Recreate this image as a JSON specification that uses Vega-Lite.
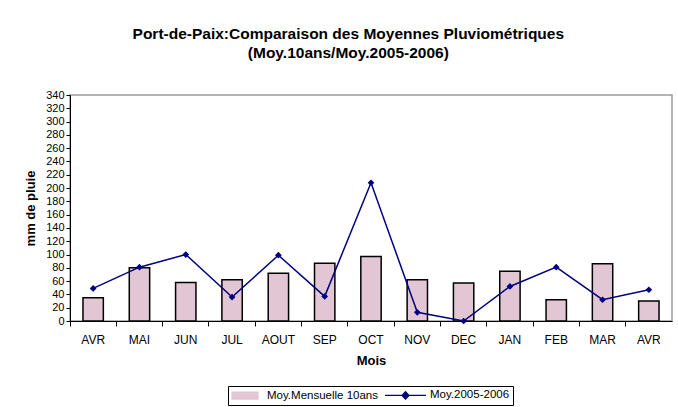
{
  "$schema": "https://vega.github.io/schema/vega-lite/v6.json",
  "width": 602,
  "height": 226,
  "autosize": {"type": "none"},
  "padding": {"left": 70, "top": 95, "right": 6, "bottom": 86},
  "background": "white",
  "config": {
    "font": "Liberation Sans",
    "view": {"stroke": "#9a9a9a", "strokeWidth": 1.5},
    "axis": {"domainColor": "black", "tickColor": "black", "labelColor": "black", "titleColor": "black", "labelFont": "Liberation Sans", "titleFont": "Liberation Sans", "grid": false}
  },
  "title": {
    "text": ["Port-de-Paix:Comparaison des Moyennes Pluviométriques", "(Moy.10ans/Moy.2005-2006)"],
    "fontSize": 15.5, "fontWeight": "bold", "font": "Liberation Sans", "lineHeight": 19,
    "anchor": "middle", "frame": "bounds", "offset": 28, "color": "black"
  },
  "data": {"values": [
    {"k": "01|AVR", "moy10": 35, "moy0506": 49},
    {"k": "02|MAI", "moy10": 80, "moy0506": 81},
    {"k": "03|JUN", "moy10": 58, "moy0506": 100},
    {"k": "04|JUL", "moy10": 62, "moy0506": 36},
    {"k": "05|AOUT", "moy10": 72, "moy0506": 99},
    {"k": "06|SEP", "moy10": 87, "moy0506": 37},
    {"k": "07|OCT", "moy10": 97, "moy0506": 208},
    {"k": "08|NOV", "moy10": 62, "moy0506": 13},
    {"k": "09|DEC", "moy10": 57, "moy0506": 0},
    {"k": "10|JAN", "moy10": 75, "moy0506": 52},
    {"k": "11|FEB", "moy10": 32, "moy0506": 81},
    {"k": "12|MAR", "moy10": 86, "moy0506": 32},
    {"k": "13|AVR", "moy10": 30, "moy0506": 47}
  ]},
  "layer": [
    {
      "mark": {"type": "bar", "stroke": "black", "strokeWidth": 1.5, "width": {"band": 0.44}},
      "encoding": {
        "x": {"field": "k", "type": "nominal", "scale": {"paddingInner": 0, "paddingOuter": 0},
          "axis": {"title": "Mois", "titleFontWeight": "bold", "titleFontSize": 13, "labelFontSize": 12, "labelAngle": 0, "ticks": false, "tickSize": 0, "labelPadding": 13, "titlePadding": 9, "labelExpr": "slice(datum.label, 3)", "domain": true}},
        "y": {"field": "moy10", "type": "quantitative", "scale": {"domain": [0, 340], "nice": false},
          "axis": {"title": "mm de pluie", "titleFontWeight": "bold", "titleFontSize": 13, "labelFontSize": 11, "tickSize": 4, "labelPadding": 2, "titlePadding": 8, "values": [0,20,40,60,80,100,120,140,160,180,200,220,240,260,280,300,320,340]}},
        "color": {"datum": "Moy.Mensuelle 10ans", "type": "nominal",
          "scale": {"domain": ["Moy.Mensuelle 10ans", "Moy.2005-2006"], "range": ["#e2c6d3", "#000080"]},
          "legend": {
            "title": null, "orient": "none", "legendX": 158, "legendY": 291, "direction": "horizontal",
            "symbolSize": 100, "labelFontSize": 11.5, "labelFont": "Liberation Sans", "labelColor": "black",
            "labelOffset": 24, "columnPadding": 3, "padding": 3, "strokeColor": "black", "fillColor": "white",
            "encode": {
              "symbols": {"update": {
                "shape": {"signal": "datum.value == 'Moy.2005-2006' ? 'M-1,0H7.2M3.1,-0.75L3.8,0L3.1,0.75L2.4,0Z' : 'M-1,-0.7H4.2V0.7H-1Z'"},
                "fill": {"signal": "datum.value == 'Moy.2005-2006' ? '#000080' : '#e2c6d3'"},
                "stroke": {"signal": "datum.value == 'Moy.2005-2006' ? '#000080' : 'black'"},
                "strokeWidth": {"value": 1.2},
                "opacity": {"value": 1}
              }},
              "labels": {"update": {"dx": {"signal": "datum.value == 'Moy.2005-2006' ? 10 : 0"}}}
            }
          }}
      }
    },
    {
      "mark": {"type": "line", "strokeWidth": 1.5, "point": {"shape": "diamond", "size": 45, "filled": true, "color": "#000080", "opacity": 1}},
      "encoding": {
        "x": {"field": "k", "type": "nominal",
          "axis": {"orient": "bottom", "bandPosition": 0, "labels": false, "title": null, "domain": false, "ticks": true, "tickSize": 5}},
        "y": {"field": "moy0506", "type": "quantitative",
          "axis": {"title": "mm de pluie", "titleFontWeight": "bold", "titleFontSize": 13, "labelFontSize": 11, "tickSize": 4, "labelPadding": 2, "titlePadding": 8, "values": [0,20,40,60,80,100,120,140,160,180,200,220,240,260,280,300,320,340]}},
        "color": {"datum": "Moy.2005-2006", "type": "nominal",
          "legend": {
            "title": null, "orient": "none", "legendX": 158, "legendY": 291, "direction": "horizontal",
            "symbolSize": 100, "labelFontSize": 11.5, "labelFont": "Liberation Sans", "labelColor": "black",
            "labelOffset": 24, "columnPadding": 3, "padding": 3, "strokeColor": "black", "fillColor": "white",
            "encode": {
              "symbols": {"update": {
                "shape": {"signal": "datum.value == 'Moy.2005-2006' ? 'M-1,0H7.2M3.1,-0.75L3.8,0L3.1,0.75L2.4,0Z' : 'M-1,-0.7H4.2V0.7H-1Z'"},
                "fill": {"signal": "datum.value == 'Moy.2005-2006' ? '#000080' : '#e2c6d3'"},
                "stroke": {"signal": "datum.value == 'Moy.2005-2006' ? '#000080' : 'black'"},
                "strokeWidth": {"value": 1.2},
                "opacity": {"value": 1}
              }},
              "labels": {"update": {"dx": {"signal": "datum.value == 'Moy.2005-2006' ? 10 : 0"}}}
            }
          }}
      }
    }
  ],
  "resolve": {"axis": {"x": "independent"}}
}
